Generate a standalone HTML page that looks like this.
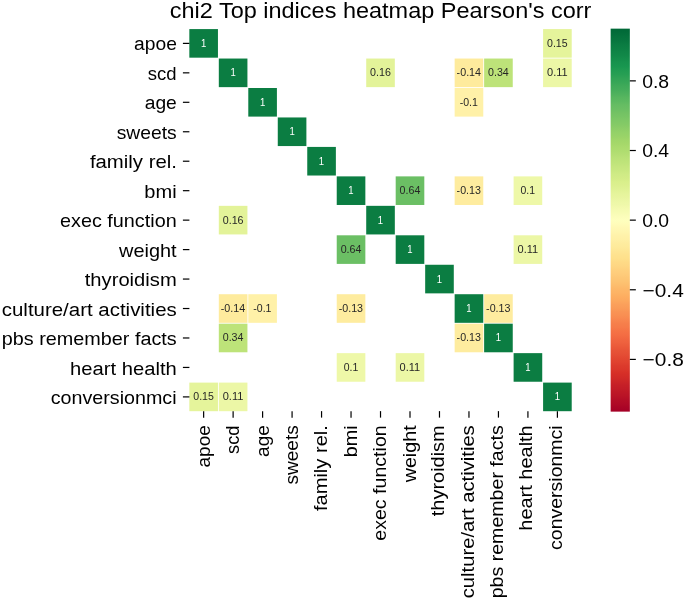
<!DOCTYPE html>
<html><head><meta charset="utf-8"><title>chi2 Top indices heatmap</title>
<style>html,body{margin:0;padding:0;background:#fff;}body{width:685px;height:601px;overflow:hidden;font-family:"Liberation Sans",sans-serif;}svg{display:block;will-change:transform;}</style>
</head><body>
<svg width="685" height="601" viewBox="0 0 685 601" font-family="Liberation Sans, sans-serif"><defs><linearGradient id="cb" x1="0" y1="0" x2="0" y2="1"><stop offset="0.0000" stop-color="#006837"/><stop offset="0.0100" stop-color="#026c39"/><stop offset="0.0200" stop-color="#05713c"/><stop offset="0.0300" stop-color="#07753e"/><stop offset="0.0400" stop-color="#0a7b41"/><stop offset="0.0500" stop-color="#0c7f43"/><stop offset="0.0600" stop-color="#0f8446"/><stop offset="0.0700" stop-color="#118848"/><stop offset="0.0800" stop-color="#148e4b"/><stop offset="0.0900" stop-color="#17934e"/><stop offset="0.1000" stop-color="#199750"/><stop offset="0.1100" stop-color="#219c52"/><stop offset="0.1200" stop-color="#279f53"/><stop offset="0.1300" stop-color="#30a356"/><stop offset="0.1400" stop-color="#36a657"/><stop offset="0.1500" stop-color="#3faa59"/><stop offset="0.1600" stop-color="#45ad5b"/><stop offset="0.1700" stop-color="#4eb15d"/><stop offset="0.1800" stop-color="#57b65f"/><stop offset="0.1900" stop-color="#5db961"/><stop offset="0.2000" stop-color="#66bd63"/><stop offset="0.2100" stop-color="#6bbf64"/><stop offset="0.2200" stop-color="#73c264"/><stop offset="0.2300" stop-color="#78c565"/><stop offset="0.2400" stop-color="#7fc866"/><stop offset="0.2500" stop-color="#84ca66"/><stop offset="0.2600" stop-color="#8ccd67"/><stop offset="0.2700" stop-color="#93d168"/><stop offset="0.2800" stop-color="#98d368"/><stop offset="0.2900" stop-color="#a0d669"/><stop offset="0.3000" stop-color="#a5d86a"/><stop offset="0.3100" stop-color="#abdb6d"/><stop offset="0.3200" stop-color="#afdd70"/><stop offset="0.3300" stop-color="#b5df74"/><stop offset="0.3400" stop-color="#bbe278"/><stop offset="0.3500" stop-color="#bfe47a"/><stop offset="0.3600" stop-color="#c5e67e"/><stop offset="0.3700" stop-color="#c9e881"/><stop offset="0.3800" stop-color="#cfeb85"/><stop offset="0.3900" stop-color="#d3ec87"/><stop offset="0.4000" stop-color="#d9ef8b"/><stop offset="0.4100" stop-color="#dcf08f"/><stop offset="0.4200" stop-color="#e0f295"/><stop offset="0.4300" stop-color="#e5f49b"/><stop offset="0.4400" stop-color="#e8f59f"/><stop offset="0.4500" stop-color="#ecf7a6"/><stop offset="0.4600" stop-color="#eff8aa"/><stop offset="0.4700" stop-color="#f4fab0"/><stop offset="0.4800" stop-color="#f7fcb4"/><stop offset="0.4900" stop-color="#fbfdba"/><stop offset="0.5000" stop-color="#feffbe"/><stop offset="0.5100" stop-color="#fffcba"/><stop offset="0.5200" stop-color="#fff8b4"/><stop offset="0.5300" stop-color="#fff6b0"/><stop offset="0.5400" stop-color="#fff2aa"/><stop offset="0.5500" stop-color="#fff0a6"/><stop offset="0.5600" stop-color="#feec9f"/><stop offset="0.5700" stop-color="#feea9b"/><stop offset="0.5800" stop-color="#fee695"/><stop offset="0.5900" stop-color="#fee28f"/><stop offset="0.6000" stop-color="#fee08b"/><stop offset="0.6100" stop-color="#feda86"/><stop offset="0.6200" stop-color="#fed683"/><stop offset="0.6300" stop-color="#fed07e"/><stop offset="0.6400" stop-color="#fecc7b"/><stop offset="0.6500" stop-color="#fdc776"/><stop offset="0.6600" stop-color="#fdc372"/><stop offset="0.6700" stop-color="#fdbd6d"/><stop offset="0.6800" stop-color="#fdb768"/><stop offset="0.6900" stop-color="#fdb365"/><stop offset="0.7000" stop-color="#fdad60"/><stop offset="0.7100" stop-color="#fca85e"/><stop offset="0.7200" stop-color="#fba05b"/><stop offset="0.7300" stop-color="#fa9b58"/><stop offset="0.7400" stop-color="#f99355"/><stop offset="0.7500" stop-color="#f98e52"/><stop offset="0.7600" stop-color="#f8864f"/><stop offset="0.7700" stop-color="#f67f4b"/><stop offset="0.7800" stop-color="#f67a49"/><stop offset="0.7900" stop-color="#f57245"/><stop offset="0.8000" stop-color="#f46d43"/><stop offset="0.8100" stop-color="#f16640"/><stop offset="0.8200" stop-color="#ee613e"/><stop offset="0.8300" stop-color="#eb5a3a"/><stop offset="0.8400" stop-color="#e75337"/><stop offset="0.8500" stop-color="#e54e35"/><stop offset="0.8600" stop-color="#e24731"/><stop offset="0.8700" stop-color="#e0422f"/><stop offset="0.8800" stop-color="#dc3b2c"/><stop offset="0.8900" stop-color="#da362a"/><stop offset="0.9000" stop-color="#d62f27"/><stop offset="0.9100" stop-color="#d22b27"/><stop offset="0.9200" stop-color="#cc2627"/><stop offset="0.9300" stop-color="#c62027"/><stop offset="0.9400" stop-color="#c21c27"/><stop offset="0.9500" stop-color="#bd1726"/><stop offset="0.9600" stop-color="#b91326"/><stop offset="0.9700" stop-color="#b30d26"/><stop offset="0.9800" stop-color="#af0926"/><stop offset="0.9900" stop-color="#a90426"/><stop offset="1.0000" stop-color="#a50026"/></linearGradient></defs>
<rect x="0" y="0" width="685" height="601" fill="#fff"/>
<rect x="189.33" y="29.08" width="28.62" height="28.60" fill="#0b7d42"/>
<rect x="543.09" y="29.08" width="28.62" height="28.60" fill="#e5f49b"/>
<rect x="218.81" y="58.54" width="28.62" height="28.60" fill="#0b7d42"/>
<rect x="366.21" y="58.54" width="28.62" height="28.60" fill="#e3f399"/>
<rect x="454.65" y="58.54" width="28.62" height="28.60" fill="#feeb9d"/>
<rect x="484.13" y="58.54" width="28.62" height="28.60" fill="#bde379"/>
<rect x="543.09" y="58.54" width="28.62" height="28.60" fill="#ecf7a6"/>
<rect x="248.29" y="88.00" width="28.62" height="28.60" fill="#0b7d42"/>
<rect x="454.65" y="88.00" width="28.62" height="28.60" fill="#fff1a8"/>
<rect x="277.77" y="117.46" width="28.62" height="28.60" fill="#0b7d42"/>
<rect x="307.25" y="146.92" width="28.62" height="28.60" fill="#0b7d42"/>
<rect x="336.73" y="176.38" width="28.62" height="28.60" fill="#0b7d42"/>
<rect x="395.69" y="176.38" width="28.62" height="28.60" fill="#6bbf64"/>
<rect x="454.65" y="176.38" width="28.62" height="28.60" fill="#feec9f"/>
<rect x="513.61" y="176.38" width="28.62" height="28.60" fill="#eef8a8"/>
<rect x="218.81" y="205.84" width="28.62" height="28.60" fill="#e3f399"/>
<rect x="366.21" y="205.84" width="28.62" height="28.60" fill="#0b7d42"/>
<rect x="336.73" y="235.30" width="28.62" height="28.60" fill="#6bbf64"/>
<rect x="395.69" y="235.30" width="28.62" height="28.60" fill="#0b7d42"/>
<rect x="513.61" y="235.30" width="28.62" height="28.60" fill="#ecf7a6"/>
<rect x="425.17" y="264.76" width="28.62" height="28.60" fill="#0b7d42"/>
<rect x="218.81" y="294.22" width="28.62" height="28.60" fill="#feeb9d"/>
<rect x="248.29" y="294.22" width="28.62" height="28.60" fill="#fff1a8"/>
<rect x="336.73" y="294.22" width="28.62" height="28.60" fill="#feec9f"/>
<rect x="454.65" y="294.22" width="28.62" height="28.60" fill="#0b7d42"/>
<rect x="484.13" y="294.22" width="28.62" height="28.60" fill="#feec9f"/>
<rect x="218.81" y="323.68" width="28.62" height="28.60" fill="#bde379"/>
<rect x="454.65" y="323.68" width="28.62" height="28.60" fill="#feec9f"/>
<rect x="484.13" y="323.68" width="28.62" height="28.60" fill="#0b7d42"/>
<rect x="336.73" y="353.14" width="28.62" height="28.60" fill="#eef8a8"/>
<rect x="395.69" y="353.14" width="28.62" height="28.60" fill="#ecf7a6"/>
<rect x="513.61" y="353.14" width="28.62" height="28.60" fill="#0b7d42"/>
<rect x="189.33" y="382.60" width="28.62" height="28.60" fill="#e5f49b"/>
<rect x="218.81" y="382.60" width="28.62" height="28.60" fill="#ecf7a6"/>
<rect x="543.09" y="382.60" width="28.62" height="28.60" fill="#0b7d42"/>
<text x="200.95" y="46.88" font-size="10.29" fill="#ffffff" textLength="5.31" lengthAdjust="spacingAndGlyphs">1</text>
<text x="547.02" y="46.88" font-size="10.29" fill="#262626" textLength="20.57" lengthAdjust="spacingAndGlyphs">0.15</text>
<text x="230.43" y="76.34" font-size="10.29" fill="#ffffff" textLength="5.31" lengthAdjust="spacingAndGlyphs">1</text>
<text x="370.13" y="76.34" font-size="10.29" fill="#262626" textLength="20.82" lengthAdjust="spacingAndGlyphs">0.16</text>
<text x="456.64" y="76.34" font-size="10.29" fill="#262626" textLength="24.40" lengthAdjust="spacingAndGlyphs">-0.14</text>
<text x="488.05" y="76.34" font-size="10.29" fill="#262626" textLength="20.73" lengthAdjust="spacingAndGlyphs">0.34</text>
<text x="547.00" y="76.34" font-size="10.29" fill="#262626" textLength="20.65" lengthAdjust="spacingAndGlyphs">0.11</text>
<text x="259.91" y="105.80" font-size="10.29" fill="#ffffff" textLength="5.31" lengthAdjust="spacingAndGlyphs">1</text>
<text x="459.67" y="105.80" font-size="10.29" fill="#262626" textLength="18.20" lengthAdjust="spacingAndGlyphs">-0.1</text>
<text x="289.39" y="135.26" font-size="10.29" fill="#ffffff" textLength="5.31" lengthAdjust="spacingAndGlyphs">1</text>
<text x="318.87" y="164.72" font-size="10.29" fill="#ffffff" textLength="5.31" lengthAdjust="spacingAndGlyphs">1</text>
<text x="348.35" y="194.18" font-size="10.29" fill="#ffffff" textLength="5.31" lengthAdjust="spacingAndGlyphs">1</text>
<text x="399.61" y="194.18" font-size="10.29" fill="#262626" textLength="20.73" lengthAdjust="spacingAndGlyphs">0.64</text>
<text x="456.64" y="194.18" font-size="10.29" fill="#262626" textLength="24.35" lengthAdjust="spacingAndGlyphs">-0.13</text>
<text x="520.56" y="194.18" font-size="10.29" fill="#262626" textLength="14.55" lengthAdjust="spacingAndGlyphs">0.1</text>
<text x="222.73" y="223.64" font-size="10.29" fill="#262626" textLength="20.82" lengthAdjust="spacingAndGlyphs">0.16</text>
<text x="377.83" y="223.64" font-size="10.29" fill="#ffffff" textLength="5.31" lengthAdjust="spacingAndGlyphs">1</text>
<text x="340.65" y="253.10" font-size="10.29" fill="#262626" textLength="20.73" lengthAdjust="spacingAndGlyphs">0.64</text>
<text x="407.31" y="253.10" font-size="10.29" fill="#ffffff" textLength="5.31" lengthAdjust="spacingAndGlyphs">1</text>
<text x="517.52" y="253.10" font-size="10.29" fill="#262626" textLength="20.65" lengthAdjust="spacingAndGlyphs">0.11</text>
<text x="436.79" y="282.56" font-size="10.29" fill="#ffffff" textLength="5.31" lengthAdjust="spacingAndGlyphs">1</text>
<text x="220.80" y="312.02" font-size="10.29" fill="#262626" textLength="24.40" lengthAdjust="spacingAndGlyphs">-0.14</text>
<text x="253.31" y="312.02" font-size="10.29" fill="#262626" textLength="18.20" lengthAdjust="spacingAndGlyphs">-0.1</text>
<text x="338.72" y="312.02" font-size="10.29" fill="#262626" textLength="24.35" lengthAdjust="spacingAndGlyphs">-0.13</text>
<text x="466.27" y="312.02" font-size="10.29" fill="#ffffff" textLength="5.31" lengthAdjust="spacingAndGlyphs">1</text>
<text x="486.12" y="312.02" font-size="10.29" fill="#262626" textLength="24.35" lengthAdjust="spacingAndGlyphs">-0.13</text>
<text x="222.73" y="341.48" font-size="10.29" fill="#262626" textLength="20.73" lengthAdjust="spacingAndGlyphs">0.34</text>
<text x="456.64" y="341.48" font-size="10.29" fill="#262626" textLength="24.35" lengthAdjust="spacingAndGlyphs">-0.13</text>
<text x="495.75" y="341.48" font-size="10.29" fill="#ffffff" textLength="5.31" lengthAdjust="spacingAndGlyphs">1</text>
<text x="343.68" y="370.94" font-size="10.29" fill="#262626" textLength="14.55" lengthAdjust="spacingAndGlyphs">0.1</text>
<text x="399.60" y="370.94" font-size="10.29" fill="#262626" textLength="20.65" lengthAdjust="spacingAndGlyphs">0.11</text>
<text x="525.23" y="370.94" font-size="10.29" fill="#ffffff" textLength="5.31" lengthAdjust="spacingAndGlyphs">1</text>
<text x="193.26" y="400.40" font-size="10.29" fill="#262626" textLength="20.57" lengthAdjust="spacingAndGlyphs">0.15</text>
<text x="222.72" y="400.40" font-size="10.29" fill="#262626" textLength="20.65" lengthAdjust="spacingAndGlyphs">0.11</text>
<text x="554.71" y="400.40" font-size="10.29" fill="#ffffff" textLength="5.31" lengthAdjust="spacingAndGlyphs">1</text>
<line x1="182.90" y1="43.38" x2="189.40" y2="43.38" stroke="#000" stroke-width="1.2"/>
<text x="134.07" y="50.48" font-size="18.27" fill="#000" textLength="42.78" lengthAdjust="spacingAndGlyphs">apoe</text>
<line x1="182.90" y1="72.84" x2="189.40" y2="72.84" stroke="#000" stroke-width="1.2"/>
<text x="147.67" y="79.94" font-size="18.27" fill="#000" textLength="28.83" lengthAdjust="spacingAndGlyphs">scd</text>
<line x1="182.90" y1="102.30" x2="189.40" y2="102.30" stroke="#000" stroke-width="1.2"/>
<text x="144.71" y="109.40" font-size="18.27" fill="#000" textLength="32.11" lengthAdjust="spacingAndGlyphs">age</text>
<line x1="182.90" y1="131.76" x2="189.40" y2="131.76" stroke="#000" stroke-width="1.2"/>
<text x="116.73" y="138.86" font-size="18.27" fill="#000" textLength="60.01" lengthAdjust="spacingAndGlyphs">sweets</text>
<line x1="182.90" y1="161.22" x2="189.40" y2="161.22" stroke="#000" stroke-width="1.2"/>
<text x="89.91" y="168.32" font-size="18.27" fill="#000" textLength="86.98" lengthAdjust="spacingAndGlyphs">family rel.</text>
<line x1="182.90" y1="190.68" x2="189.40" y2="190.68" stroke="#000" stroke-width="1.2"/>
<text x="144.33" y="197.78" font-size="18.27" fill="#000" textLength="32.30" lengthAdjust="spacingAndGlyphs">bmi</text>
<line x1="182.90" y1="220.14" x2="189.40" y2="220.14" stroke="#000" stroke-width="1.2"/>
<text x="59.97" y="227.24" font-size="18.27" fill="#000" textLength="116.71" lengthAdjust="spacingAndGlyphs">exec function</text>
<line x1="182.90" y1="249.60" x2="189.40" y2="249.60" stroke="#000" stroke-width="1.2"/>
<text x="119.02" y="256.70" font-size="18.27" fill="#000" textLength="57.62" lengthAdjust="spacingAndGlyphs">weight</text>
<line x1="182.90" y1="279.06" x2="189.40" y2="279.06" stroke="#000" stroke-width="1.2"/>
<text x="84.78" y="286.16" font-size="18.27" fill="#000" textLength="91.95" lengthAdjust="spacingAndGlyphs">thyroidism</text>
<line x1="182.90" y1="308.52" x2="189.40" y2="308.52" stroke="#000" stroke-width="1.2"/>
<text x="1.75" y="315.62" font-size="18.27" fill="#000" textLength="175.00" lengthAdjust="spacingAndGlyphs">culture/art activities</text>
<line x1="182.90" y1="337.98" x2="189.40" y2="337.98" stroke="#000" stroke-width="1.2"/>
<text x="1.73" y="345.08" font-size="18.27" fill="#000" textLength="175.01" lengthAdjust="spacingAndGlyphs">pbs remember facts</text>
<line x1="182.90" y1="367.44" x2="189.40" y2="367.44" stroke="#000" stroke-width="1.2"/>
<text x="70.07" y="374.54" font-size="18.27" fill="#000" textLength="106.68" lengthAdjust="spacingAndGlyphs">heart health</text>
<line x1="182.90" y1="396.90" x2="189.40" y2="396.90" stroke="#000" stroke-width="1.2"/>
<text x="50.70" y="404.00" font-size="18.27" fill="#000" textLength="125.90" lengthAdjust="spacingAndGlyphs">conversionmci</text>
<line x1="203.64" y1="411.13" x2="203.64" y2="417.63" stroke="#000" stroke-width="1.2"/>
<text x="-42.34" y="0.00" font-size="18.06" fill="#000" textLength="42.29" lengthAdjust="spacingAndGlyphs" transform="translate(209.74,425.13) rotate(-90)">apoe</text>
<line x1="233.12" y1="411.13" x2="233.12" y2="417.63" stroke="#000" stroke-width="1.2"/>
<text x="-28.89" y="0.00" font-size="18.06" fill="#000" textLength="28.50" lengthAdjust="spacingAndGlyphs" transform="translate(239.22,425.13) rotate(-90)">scd</text>
<line x1="262.60" y1="411.13" x2="262.60" y2="417.63" stroke="#000" stroke-width="1.2"/>
<text x="-31.82" y="0.00" font-size="18.06" fill="#000" textLength="31.74" lengthAdjust="spacingAndGlyphs" transform="translate(268.70,425.13) rotate(-90)">age</text>
<line x1="292.08" y1="411.13" x2="292.08" y2="417.63" stroke="#000" stroke-width="1.2"/>
<text x="-59.48" y="0.00" font-size="18.06" fill="#000" textLength="59.33" lengthAdjust="spacingAndGlyphs" transform="translate(298.18,425.13) rotate(-90)">sweets</text>
<line x1="321.56" y1="411.13" x2="321.56" y2="417.63" stroke="#000" stroke-width="1.2"/>
<text x="-85.99" y="0.00" font-size="18.06" fill="#000" textLength="85.98" lengthAdjust="spacingAndGlyphs" transform="translate(327.36,425.13) rotate(-90)">family rel.</text>
<line x1="351.04" y1="411.13" x2="351.04" y2="417.63" stroke="#000" stroke-width="1.2"/>
<text x="-32.19" y="0.00" font-size="18.06" fill="#000" textLength="31.93" lengthAdjust="spacingAndGlyphs" transform="translate(357.14,425.13) rotate(-90)">bmi</text>
<line x1="380.52" y1="411.13" x2="380.52" y2="417.63" stroke="#000" stroke-width="1.2"/>
<text x="-115.58" y="0.00" font-size="18.06" fill="#000" textLength="115.37" lengthAdjust="spacingAndGlyphs" transform="translate(385.82,425.13) rotate(-90)">exec function</text>
<line x1="410.00" y1="411.13" x2="410.00" y2="417.63" stroke="#000" stroke-width="1.2"/>
<text x="-57.21" y="0.00" font-size="18.06" fill="#000" textLength="56.96" lengthAdjust="spacingAndGlyphs" transform="translate(415.50,425.13) rotate(-90)">weight</text>
<line x1="439.48" y1="411.13" x2="439.48" y2="417.63" stroke="#000" stroke-width="1.2"/>
<text x="-91.06" y="0.00" font-size="18.06" fill="#000" textLength="90.89" lengthAdjust="spacingAndGlyphs" transform="translate(443.68,425.13) rotate(-90)">thyroidism</text>
<line x1="468.96" y1="411.13" x2="468.96" y2="417.63" stroke="#000" stroke-width="1.2"/>
<text x="-173.14" y="0.00" font-size="18.06" fill="#000" textLength="172.99" lengthAdjust="spacingAndGlyphs" transform="translate(473.86,425.13) rotate(-90)">culture/art activities</text>
<line x1="498.44" y1="411.13" x2="498.44" y2="417.63" stroke="#000" stroke-width="1.2"/>
<text x="-173.16" y="0.00" font-size="18.06" fill="#000" textLength="172.99" lengthAdjust="spacingAndGlyphs" transform="translate(502.74,425.13) rotate(-90)">pbs remember facts</text>
<line x1="527.92" y1="411.13" x2="527.92" y2="417.63" stroke="#000" stroke-width="1.2"/>
<text x="-105.60" y="0.00" font-size="18.06" fill="#000" textLength="105.45" lengthAdjust="spacingAndGlyphs" transform="translate(532.22,425.13) rotate(-90)">heart health</text>
<line x1="557.40" y1="411.13" x2="557.40" y2="417.63" stroke="#000" stroke-width="1.2"/>
<text x="-124.75" y="0.00" font-size="18.06" fill="#000" textLength="124.45" lengthAdjust="spacingAndGlyphs" transform="translate(562.20,425.13) rotate(-90)">conversionmci</text>
<rect x="610.64" y="28.65" width="19.20" height="382.98" fill="url(#cb)"/>
<line x1="629.84" y1="80.87" x2="635.84" y2="80.87" stroke="#000" stroke-width="1.2"/>
<text x="642.20" y="87.77" font-size="18.27" fill="#000" textLength="26.96" lengthAdjust="spacingAndGlyphs">0.8</text>
<line x1="629.84" y1="150.51" x2="635.84" y2="150.51" stroke="#000" stroke-width="1.2"/>
<text x="642.20" y="157.41" font-size="18.27" fill="#000" textLength="26.89" lengthAdjust="spacingAndGlyphs">0.4</text>
<line x1="629.84" y1="220.14" x2="635.84" y2="220.14" stroke="#000" stroke-width="1.2"/>
<text x="642.20" y="227.04" font-size="18.27" fill="#000" textLength="26.91" lengthAdjust="spacingAndGlyphs">0.0</text>
<line x1="629.84" y1="289.77" x2="635.84" y2="289.77" stroke="#000" stroke-width="1.2"/>
<text x="642.63" y="296.67" font-size="18.27" fill="#000" textLength="41.10" lengthAdjust="spacingAndGlyphs">−0.4</text>
<line x1="629.84" y1="359.41" x2="635.84" y2="359.41" stroke="#000" stroke-width="1.2"/>
<text x="642.62" y="366.31" font-size="18.27" fill="#000" textLength="41.20" lengthAdjust="spacingAndGlyphs">−0.8</text>
<text x="169.75" y="17.70" font-size="21.26" fill="#000" textLength="421.65" lengthAdjust="spacingAndGlyphs">chi2 Top indices heatmap Pearson's corr</text></svg>
</body></html>
